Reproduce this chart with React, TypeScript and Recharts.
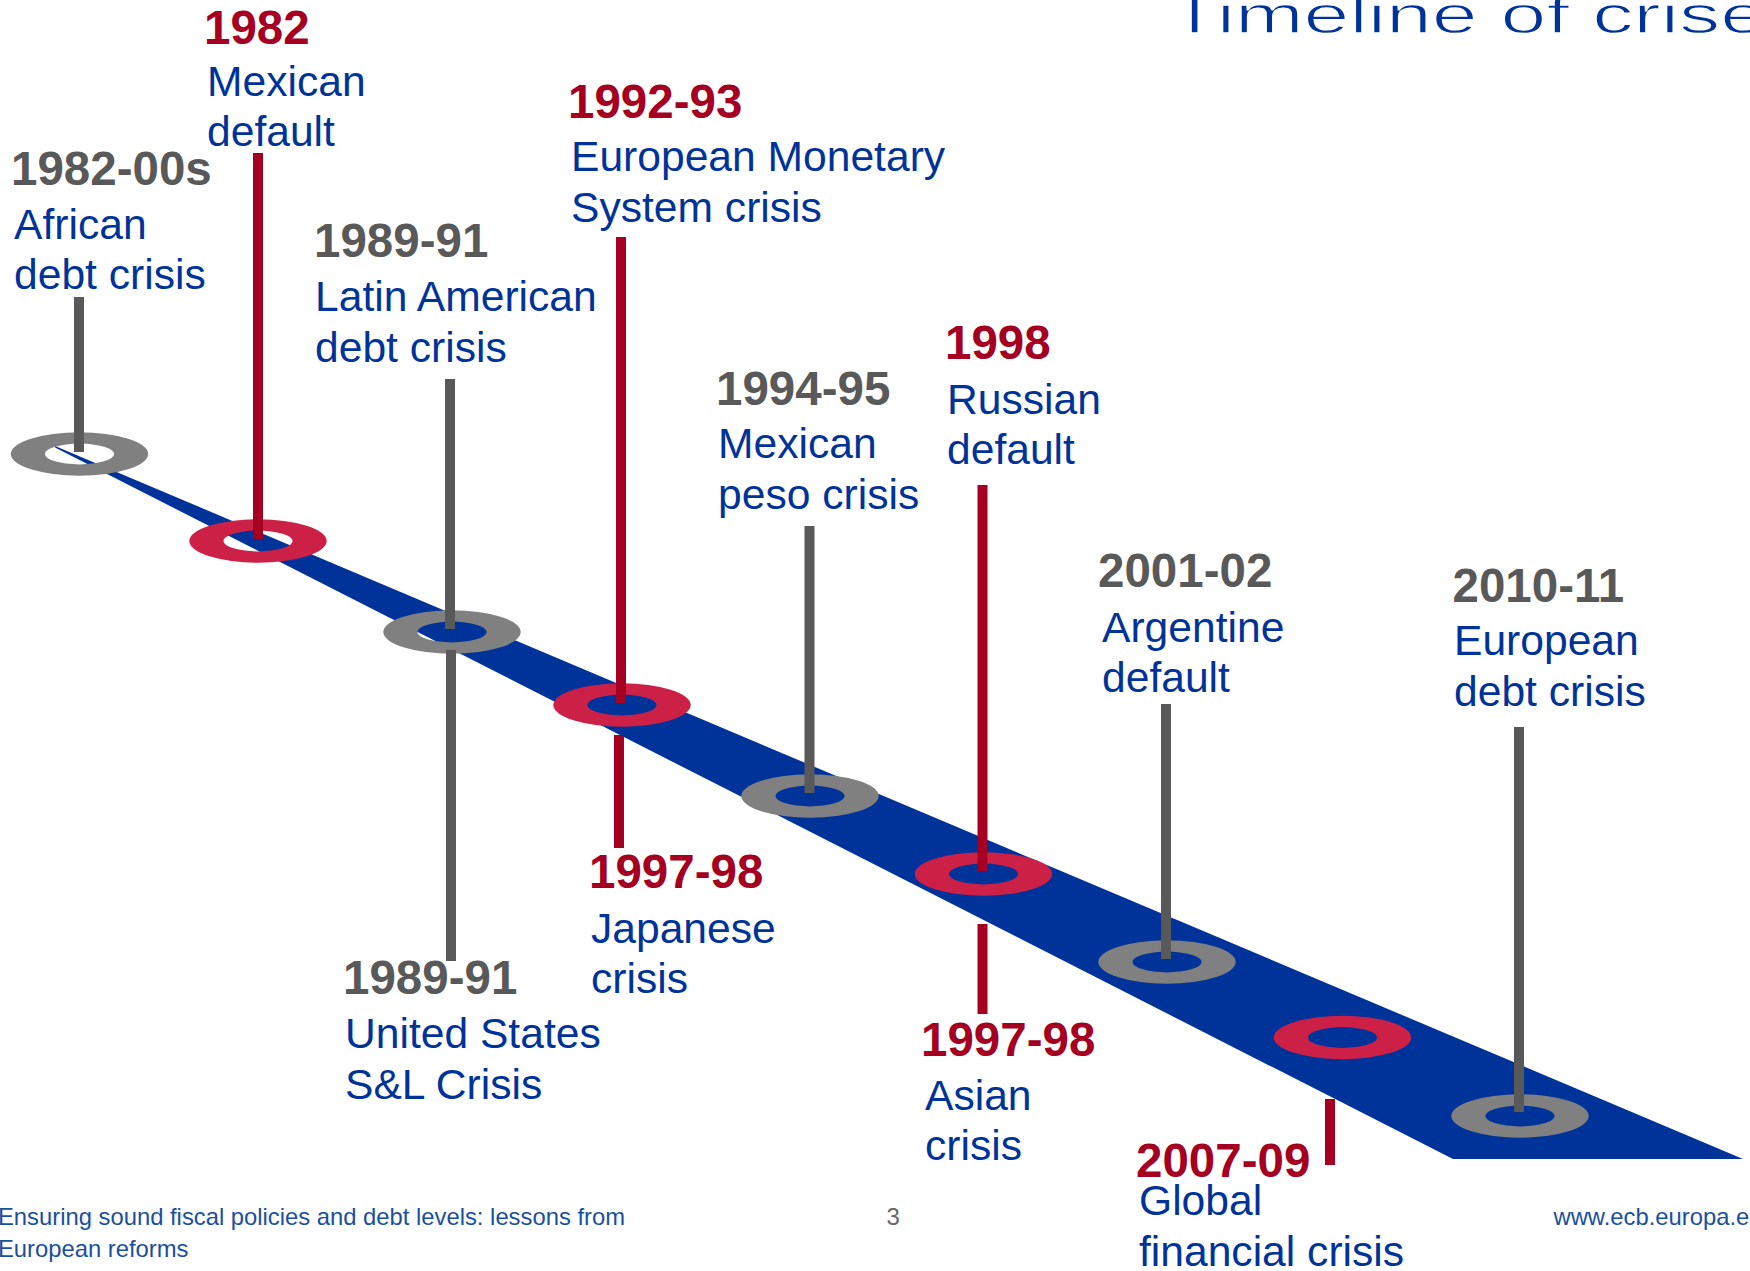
import React from 'react';
import { ComposedChart, XAxis, YAxis, Area, Scatter, Customized } from 'recharts';

// ---------- data (chart units) ----------
// the blue timeline band: x positions and its upper / lower edge
const bandX = [55, 1453, 1743];
const bandUpper = [446, 1036.5, 1159];
const bandLower = [447.5, 1159, 1159];

// rings on the band
const ringX = [79.5, 258, 452, 622, 810, 983.5, 1167, 1342.5, 1520];
const ringY = [454, 541, 632, 705, 796, 874, 962, 1037.5, 1116];
const ringTone = ['gray', 'red', 'gray', 'red', 'gray', 'red', 'gray', 'red', 'gray'];

// crises (labels)
const crisisYears = ['1982-00s', '1982', '1989-91', '1989-91', '1992-93', '1997-98', '1994-95', '1998', '1997-98', '2001-02', '2007-09', '2010-11'];
const crisisNames = [
  ['African', 'debt crisis'],
  ['Mexican', 'default'],
  ['Latin American', 'debt crisis'],
  ['United States', 'S&L Crisis'],
  ['European Monetary', 'System crisis'],
  ['Japanese', 'crisis'],
  ['Mexican', 'peso crisis'],
  ['Russian', 'default'],
  ['Asian', 'crisis'],
  ['Argentine', 'default'],
  ['Global', 'financial crisis'],
  ['European', 'debt crisis'],
];
const crisisTone = ['gray', 'red', 'gray', 'gray', 'red', 'red', 'gray', 'red', 'red', 'gray', 'red', 'gray'];
const yearAnchorX = [11, 204, 314, 343, 568, 589, 716, 945, 921, 1098, 1136, 1452.5];
const yearAnchorY = [185, 43.5, 257, 994, 118, 888, 405, 359, 1055.6, 587, 1176.5, 602];
const nameAnchorX = [14, 207, 315, 345, 571, 591, 718, 947, 925, 1102, 1139, 1454];
const nameAnchorY = [238.6, 95.7, 311, 1048, 171, 942.5, 458, 413.6, 1109.7, 641.6, 1215.4, 655];

// stems linking each crisis label to the band (same order as crises)
const stemX = [79, 258, 450, 451, 621, 619, 809.5, 982.5, 982.5, 1166, 1330, 1519];
const stemTop = [297, 153, 379, 650, 237, 735, 526, 485, 924, 704, 1099, 727];
const stemBottom = [452, 539, 629, 961, 703, 848, 793, 871, 1014, 959, 1165, 1112];

// ---------- styles ----------
const FONT = "'Liberation Sans', Arial, Helvetica, sans-serif";
const BLUE = '#003399';
const FOOT_BLUE = '#1A4FA0';
const TEXT_RED = '#A50021';
const TEXT_GRAY = '#595959';
const RING_RED = '#CD2046';
const RING_GRAY = '#808080';
const STEM_RED = '#A50021';
const STEM_GRAY = '#595959';

const W = 1750;
const H = 1271;

// ---------- derived tables ----------
const bandRows = bandX.map((x, i) => ({ x, band: [bandUpper[i], bandLower[i]] }));
const ringRows = ringX.map((x, i) => ({ x, y: ringY[i], tone: ringTone[i] }));
const yearRows = crisisYears.map((t, i) => ({ x: yearAnchorX[i], y: yearAnchorY[i], text: t, tone: crisisTone[i] }));
const nameRows = crisisNames.map((lines, i) => ({ x: nameAnchorX[i], y: nameAnchorY[i], lines }));
const stemRows = stemX.map((x, i) => ({
  tone: crisisTone[i],
  pts: [
    { x, y: stemTop[i] },
    { x, y: stemBottom[i] },
  ],
}));

const ellipse = (cx: number, cy: number, rx: number, ry: number) =>
  `M${cx - rx},${cy} a${rx},${ry} 0 1,0 ${2 * rx},0 a${rx},${ry} 0 1,0 ${-2 * rx},0 Z `;

const RingShape = (props: any) => {
  const { cx, cy, payload } = props;
  if (cx == null || cy == null) return <g />;
  const d = ellipse(cx, cy, 68.7, 21.7) + ellipse(cx, cy, 34.6, 10.4);
  return <path d={d} fill={payload.tone === 'red' ? RING_RED : RING_GRAY} fillRule="evenodd" />;
};

const YearShape = (props: any) => {
  const { cx, cy, payload } = props;
  return (
    <text x={cx} y={cy} fontFamily={FONT} fontWeight="bold" fontSize={47.5}
      fill={payload.tone === 'red' ? TEXT_RED : TEXT_GRAY}>
      {payload.text}
    </text>
  );
};

const NameShape = (props: any) => {
  const { cx, cy, payload } = props;
  return (
    <text x={cx} y={cy} fontFamily={FONT} fontSize={42.6} fill={BLUE}>
      {payload.lines.map((l: string, i: number) => (
        <tspan key={i} x={cx} dy={i === 0 ? 0 : 50.5}>{l}</tspan>
      ))}
    </text>
  );
};

const Empty = () => <g />;

const Decor = () => (
  <g fontFamily={FONT}>
    <text transform="translate(1169.4 32.8) scale(1.555 1)" fontSize={53} fill={BLUE}
      stroke="#ffffff" strokeWidth={1.3}>
      Timeline of crises
    </text>
    <text x={-2} y={1225} fontSize={23.8} fill={FOOT_BLUE}>
      Ensuring sound fiscal policies and debt levels: lessons from
    </text>
    <text x={-2} y={1256.7} fontSize={23.8} fill={FOOT_BLUE}>
      European reforms
    </text>
    <text x={886.5} y={1224.5} fontSize={24} fill="#666666">3</text>
    <text x={1553.5} y={1225} fontSize={23.8} fill={FOOT_BLUE}>www.ecb.europa.eu</text>
  </g>
);

export default function App() {
  return (
    <div style={{ position: 'absolute', left: 0, top: 0, width: W, height: H, background: '#ffffff' }}>
      <ComposedChart width={W} height={H} data={bandRows} margin={{ top: 0, right: 0, bottom: 0, left: 0 }}>
        <XAxis type="number" dataKey="x" domain={[0, W]} allowDataOverflow hide />
        <YAxis type="number" domain={[0, H]} reversed allowDataOverflow hide />
        <Area type="linear" dataKey="band" fill={BLUE} fillOpacity={1} stroke="none" isAnimationActive={false} />
        <Scatter data={ringRows} dataKey="y" shape={RingShape} isAnimationActive={false} />
        {stemRows.map((s, i) => (
          <Scatter
            key={`stem-${i}`}
            data={s.pts}
            dataKey="y"
            fill={s.tone === 'red' ? STEM_RED : STEM_GRAY}
            line={{ stroke: s.tone === 'red' ? STEM_RED : STEM_GRAY, strokeWidth: 10 }}
            lineType="joint"
            shape={Empty}
            isAnimationActive={false}
          />
        ))}
        <Scatter data={yearRows} dataKey="y" shape={YearShape} isAnimationActive={false} />
        <Scatter data={nameRows} dataKey="y" shape={NameShape} isAnimationActive={false} />
        <Customized component={Decor} />
      </ComposedChart>
    </div>
  );
}
